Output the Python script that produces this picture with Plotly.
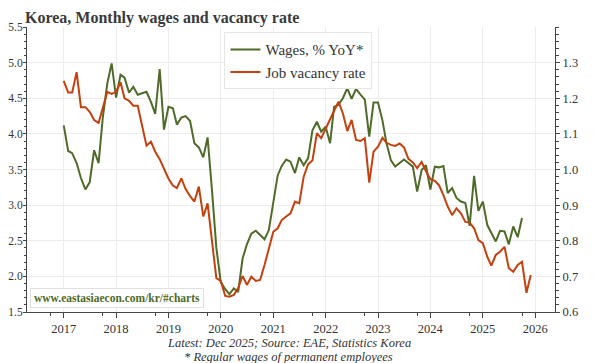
import plotly.graph_objects as go
import pandas as pd

# Monthly, Jan 2017 onward
wages = [4.12, 3.76, 3.73, 3.59, 3.38, 3.22, 3.32, 3.77, 3.59, 4.24, 4.71, 4.99,
         4.51, 4.83, 4.79, 4.58, 4.66, 4.55, 4.57, 4.59, 4.45, 4.28, 4.91, 4.06,
         4.38, 4.36, 4.13, 4.23, 4.25, 4.18, 3.87, 3.81, 3.67, 3.95, 3.20, 2.40,
         1.92, 1.82, 1.75, 1.83, 1.78, 2.25, 2.45, 2.60, 2.64, 2.58, 2.52, 2.65,
         3.03, 3.42, 3.55, 3.64, 3.61, 3.45, 3.67, 3.56, 3.66, 4.05, 4.17, 4.03,
         4.10, 3.87, 4.38, 4.41, 4.50, 4.64, 4.49, 4.63, 4.55, 4.48, 3.96, 4.44,
         4.44, 4.19, 3.87, 3.63, 3.54, 3.59, 3.64, 3.59, 3.54, 3.19, 3.49, 3.56,
         3.22, 3.54, 3.53, 3.55, 3.17, 3.24, 3.10, 3.05, 3.03, 2.71, 3.41, 2.92,
         3.05, 2.72, 2.60, 2.49, 2.64, 2.63, 2.45, 2.70, 2.55, 2.82]

vacancy = [1.249, 1.216, 1.216, 1.273, 1.175, 1.175, 1.162, 1.139, 1.131, 1.176, 1.218, 1.212,
           1.218, 1.245, 1.200, 1.193, 1.179, 1.179, 1.125, 1.067, 1.078, 1.050, 1.029, 1.003,
           0.975, 0.955, 0.948, 0.975, 0.945, 0.925, 0.910, 0.952, 0.868, 0.905, 0.793, 0.695,
           0.687, 0.645, 0.643, 0.648, 0.667, 0.701, 0.676, 0.699, 0.687, 0.690, 0.732, 0.774,
           0.825, 0.835, 0.858, 0.868, 0.877, 0.910, 0.905, 0.980, 1.015, 1.025, 1.102, 1.088,
           1.116, 1.139, 1.165, 1.190, 1.158, 1.108, 1.139, 1.083, 1.080, 1.088, 0.963, 1.050,
           1.064, 1.089, 1.075, 1.069, 1.066, 1.073, 1.062, 1.030, 1.020, 1.004, 1.021, 0.996,
           0.973, 0.968, 0.956, 0.928, 0.896, 0.872, 0.891, 0.877, 0.853, 0.851, 0.835, 0.802,
           0.793, 0.755, 0.730, 0.760, 0.769, 0.783, 0.723, 0.713, 0.732, 0.741, 0.654, 0.704]

wage_dates = pd.date_range("2017-01-01", periods=len(wages), freq="MS")
vac_dates = pd.date_range("2017-01-01", periods=len(vacancy), freq="MS")

left_ticks = [1.5, 2.0, 2.5, 3.0, 3.5, 4.0, 4.5, 5.0, 5.5]
right_ticks = [0.6, 0.7, 0.8, 0.9, 1.0, 1.1, 1.2, 1.3]
year_ticks = [str(y) for y in range(2017, 2027)]

GREEN = "#4e6b28"
RED = "#c6400e"
FONT = "Liberation Serif"
AX = "#444444"
GRID = "#ececec"

# the page body has an 8px margin, so the figure is sized/offset to compensate
W, H = 592, 355

fig = go.Figure()
fig.add_trace(go.Scatter(x=wage_dates, y=wages, name="Wages, % YoY*", mode="lines",
                         line=dict(color=GREEN, width=2)))
fig.add_trace(go.Scatter(x=vac_dates, y=vacancy, name="Job vacancy rate", mode="lines",
                         line=dict(color=RED, width=2), yaxis="y2"))

fig.update_layout(
    width=W, height=H,
    margin=dict(l=19, r=45, t=19, b=51, autoexpand=False),
    paper_bgcolor="white", plot_bgcolor="white",
    font=dict(family=FONT, color="#333333", size=12),
    title=dict(text="<b>Korea, Monthly wages and vacancy rate</b>",
               x=17/W, xanchor="left", y=1-9/H, yanchor="middle",
               font=dict(family=FONT, size=16, color="#3a3a3a")),
    showlegend=True,
    legend=dict(x=0.374, y=0.982, xanchor="left", yanchor="top",
                bgcolor="white", bordercolor="#e6e6e6", borderwidth=1,
                font=dict(family=FONT, size=15, color="#333333"),
                tracegroupgap=0, itemwidth=30),
    xaxis=dict(type="date", range=["2016-04-20", "2026-05-19"], automargin=False,
               tickvals=[f"{y}-01-01" for y in year_ticks], ticktext=year_ticks,
               showgrid=True, gridcolor=GRID, gridwidth=1,
               showline=True, linecolor=AX, linewidth=1, mirror=False,
               ticks="outside", ticklen=5, tickcolor=AX, zeroline=False,
               tickfont=dict(size=12.5),
               minor=dict(tickvals=[f"{y}-10-01" for y in range(2016, 2026)],
                          ticks="outside", ticklen=3, tickcolor=AX, showgrid=False)),
    yaxis=dict(range=[1.5, 5.5], tickvals=left_ticks, automargin=False,
               ticktext=[f"{v:.1f}" for v in left_ticks],
               showgrid=True, gridcolor=GRID, gridwidth=1,
               showline=True, linecolor=AX, linewidth=1,
               ticks="outside", ticklen=3, tickcolor=AX, zeroline=False,
               ticklabelstandoff=-2,
               tickfont=dict(size=11.5),
               minor=dict(dtick=0.1, ticks="outside", ticklen=2, tickcolor=AX, showgrid=False)),
    yaxis2=dict(range=[0.6, 1.4], overlaying="y", side="right", automargin=False,
                tickvals=right_ticks, ticktext=[f"{v:.1f}" for v in right_ticks],
                showgrid=False, showline=True, linecolor=AX, linewidth=1,
                ticks="outside", ticklen=4, tickcolor=AX, zeroline=False,
                tickfont=dict(size=12.5),
                minor=dict(dtick=0.02, ticks="outside", ticklen=2.5, tickcolor=AX)),
)

fig.add_annotation(text="<b>www.eastasiaecon.com/kr/#charts</b>",
                   xref="paper", yref="paper", x=0.006, y=0.015,
                   xanchor="left", yanchor="bottom", showarrow=False,
                   font=dict(family=FONT, size=11.5, color=GREEN),
                   bgcolor="white", bordercolor="#e0e0e0", borderwidth=1, borderpad=3)
fig.add_annotation(text="<i>Latest: Dec 2025; Source: EAE, Statistics Korea</i>",
                   xref="paper", yref="paper", x=0.496, y=(312-343)/285,
                   xanchor="center", yanchor="middle", showarrow=False,
                   font=dict(family=FONT, size=12.5, color="#333333"))
fig.add_annotation(text="<i>* Regular wages of permanent employees</i>",
                   xref="paper", yref="paper", x=0.496, y=(312-357)/285,
                   xanchor="center", yanchor="middle", showarrow=False,
                   font=dict(family=FONT, size=12.5, color="#333333"))

fig.write_html("out.html")
